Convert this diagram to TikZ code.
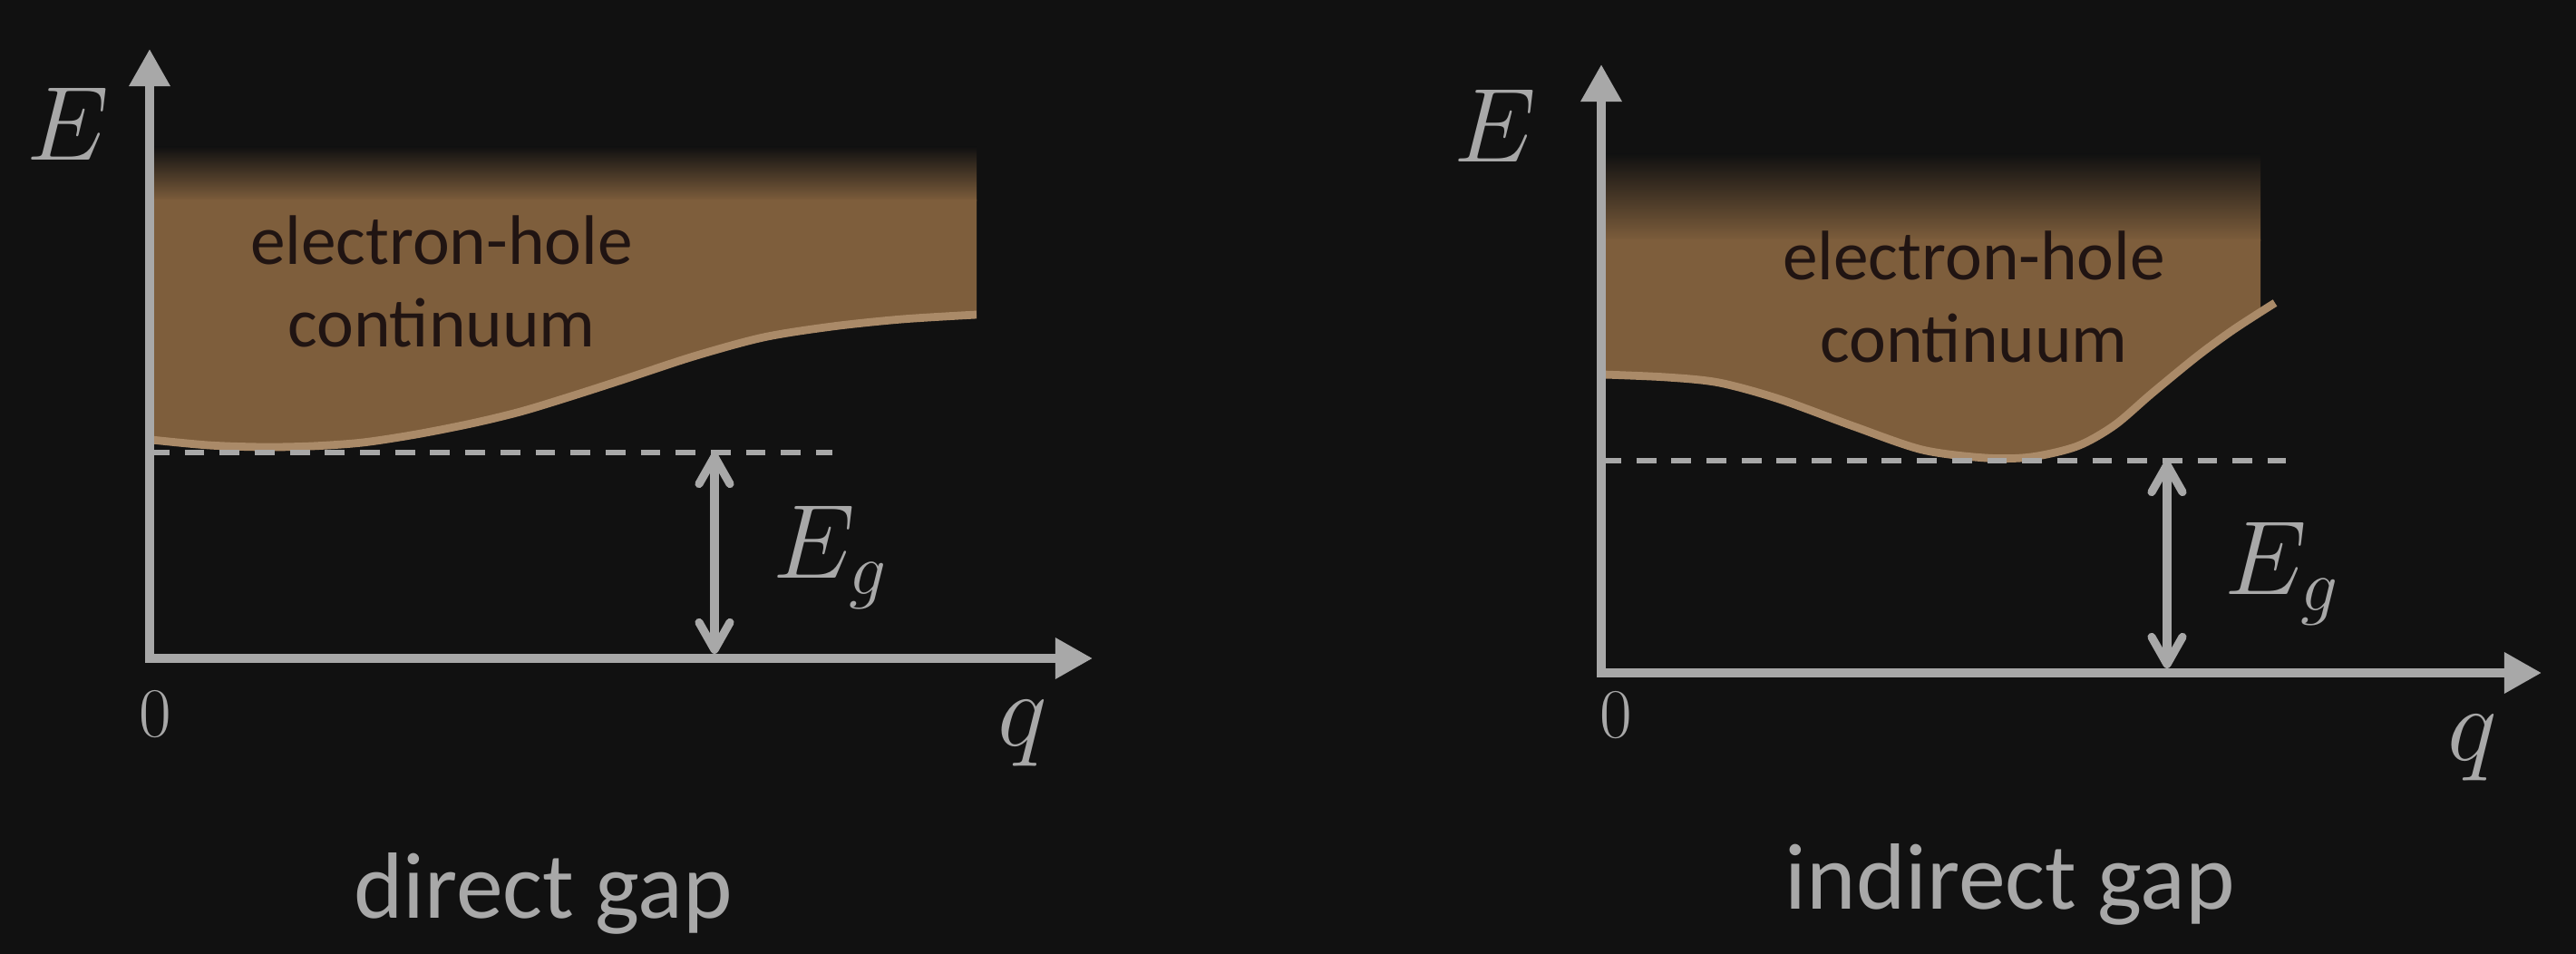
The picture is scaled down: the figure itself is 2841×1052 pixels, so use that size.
\RequirePackage{fix-cm}
\documentclass[tikz,border=0pt]{standalone}
\usepackage[no-math]{fontspec}
\setmainfont{Carlito}
\usepackage{tikz}
\usetikzlibrary{arrows.meta}
\usepackage{xcolor}
\definecolor{bgdark}{RGB}{17,17,17}
\definecolor{axisgray}{RGB}{168,168,168}
\definecolor{contbrown}{RGB}{126,94,60}
\definecolor{edgetan}{RGB}{170,138,104}
\definecolor{contink}{RGB}{32,20,18}
\tikzset{
  axisline/.style={line width=2.7pt, draw=axisgray, line cap=rect, -{Triangle[length=4.1mm, width=4.3mm]}},
  gaparrow/.style={line width=2.6pt, draw=axisgray,
    {Straight Barb[length=3mm, width=3.4mm, round]}-{Straight Barb[length=3mm, width=3.4mm, round]}},
  gapline/.style={line width=1.7pt, draw=axisgray, dash pattern=on 6.2pt off 4.8pt},
  contfill/.style={fill=contbrown},
  contedge/.style={draw=edgetan, line width=2.5pt},
  bigmath/.style={text=axisgray, font=\fontsize{33}{40}\selectfont, inner sep=0pt},
  zerolabel/.style={text=axisgray, font=\fontsize{22}{26}\selectfont, inner sep=0pt},
  contlabel/.style={text=contink, align=center, font=\fontsize{22}{26}\selectfont, inner sep=0pt},
  caption/.style={text=axisgray, font=\fontsize{29.5}{35}\selectfont, inner sep=0pt}
}

\begin{document}
\begin{tikzpicture}[x=0.01cm, y=-0.01cm]
  \fill[bgdark] (0,0) rectangle (2841,1052);
  \useasboundingbox (0,0) rectangle (2841,1052);

  % direct gap
  \shade[top color=bgdark, bottom color=contbrown] (167,162) rectangle (1077,222);
  \begin{scope}
    \clip (167,200) rectangle (1077,800);
    \fill[contfill] plot[smooth] coordinates {(167,485) (230,491) (290,493) (344,492) (400,488) (459,479)
      (520,467) (574,454) (630,437) (689,418) (765,393) (842,372) (918,360) (995,352) (1077,347)}
      -- (1077,220) -- (167,220) -- cycle;
  \end{scope}
  \draw[contedge] plot[smooth] coordinates {(167,485) (230,491) (290,493) (344,492) (400,488) (459,479)
      (520,467) (574,454) (630,437) (689,418) (765,393) (842,372) (918,360) (995,352) (1077,347)};

  \coordinate (oL) at (165,726);
  \coordinate (yL) at (165,54);
  \coordinate (xL) at (1205,726);
  \coordinate (gapL) at (165,499);
  \coordinate (gapendL) at (918,499);
  \coordinate (egtopL) at (788,499);
  \coordinate (egbotL) at (788,721);

  \draw[gapline] (gapL) -- (gapendL);
  \draw[axisline] (oL) -- (yL);
  \draw[axisline] (oL) -- (xL);
  \draw[gaparrow] (egbotL) -- (egtopL);

  \node[bigmath, anchor=base] (eL) at (75,177) {$E$};
  \node[bigmath, anchor=base west] (egL) at (852,638) {$E_g$};
  \node[zerolabel, anchor=base] (zeroL) at (171,813) {$0$};
  \node[bigmath, anchor=base] (qL) at (1128,822) {$q$};
  \node[contlabel, anchor=base] (contL) at (487,383) {electron-hole\\continuum};
  \node[caption, anchor=base] (capL) at (599,1012) {direct gap};

  % indirect gap
  \shade[top color=bgdark, bottom color=contbrown] (1768,170) rectangle (2493,266);
  \begin{scope}
    \clip (1768,200) rectangle (2493,800);
    \fill[contfill] plot[smooth] coordinates {(1768,413) (1838,416) (1896,422) (1962,440) (2044,470)
      (2120,496) (2190,505) (2240,504) (2291,492) (2332,469) (2373,434) (2423,393) (2464,363) (2509,334)}
      -- (2509,264) -- (1768,264) -- cycle;
  \end{scope}
  \draw[contedge] plot[smooth] coordinates {(1768,413) (1838,416) (1896,422) (1962,440) (2044,470)
      (2120,496) (2190,505) (2240,504) (2291,492) (2332,469) (2373,434) (2423,393) (2464,363) (2509,334)};

  \coordinate (oR) at (1766,742);
  \coordinate (yR) at (1766,71);
  \coordinate (xR) at (2803,742);
  \coordinate (gapR) at (1766,508);
  \coordinate (gapendR) at (2521,508);
  \coordinate (egtopR) at (2390,508);
  \coordinate (egbotR) at (2390,737);

  \draw[gapline] (gapR) -- (gapendR);
  \draw[axisline] (oR) -- (yR);
  \draw[axisline] (oR) -- (xR);
  \draw[gaparrow] (egbotR) -- (egtopR);

  \node[bigmath, anchor=base] (eR) at (1649,179) {$E$};
  \node[bigmath, anchor=base west] (egR) at (2453,656) {$E_g$};
  \node[zerolabel, anchor=base] (zeroR) at (1782,814) {$0$};
  \node[bigmath, anchor=base] (qR) at (2727,838) {$q$};
  \node[contlabel, anchor=base] (contR) at (2177,400) {electron-hole\\continuum};
  \node[caption, anchor=base] (capR) at (2217,1002) {indirect gap};
\end{tikzpicture}
\end{document}
